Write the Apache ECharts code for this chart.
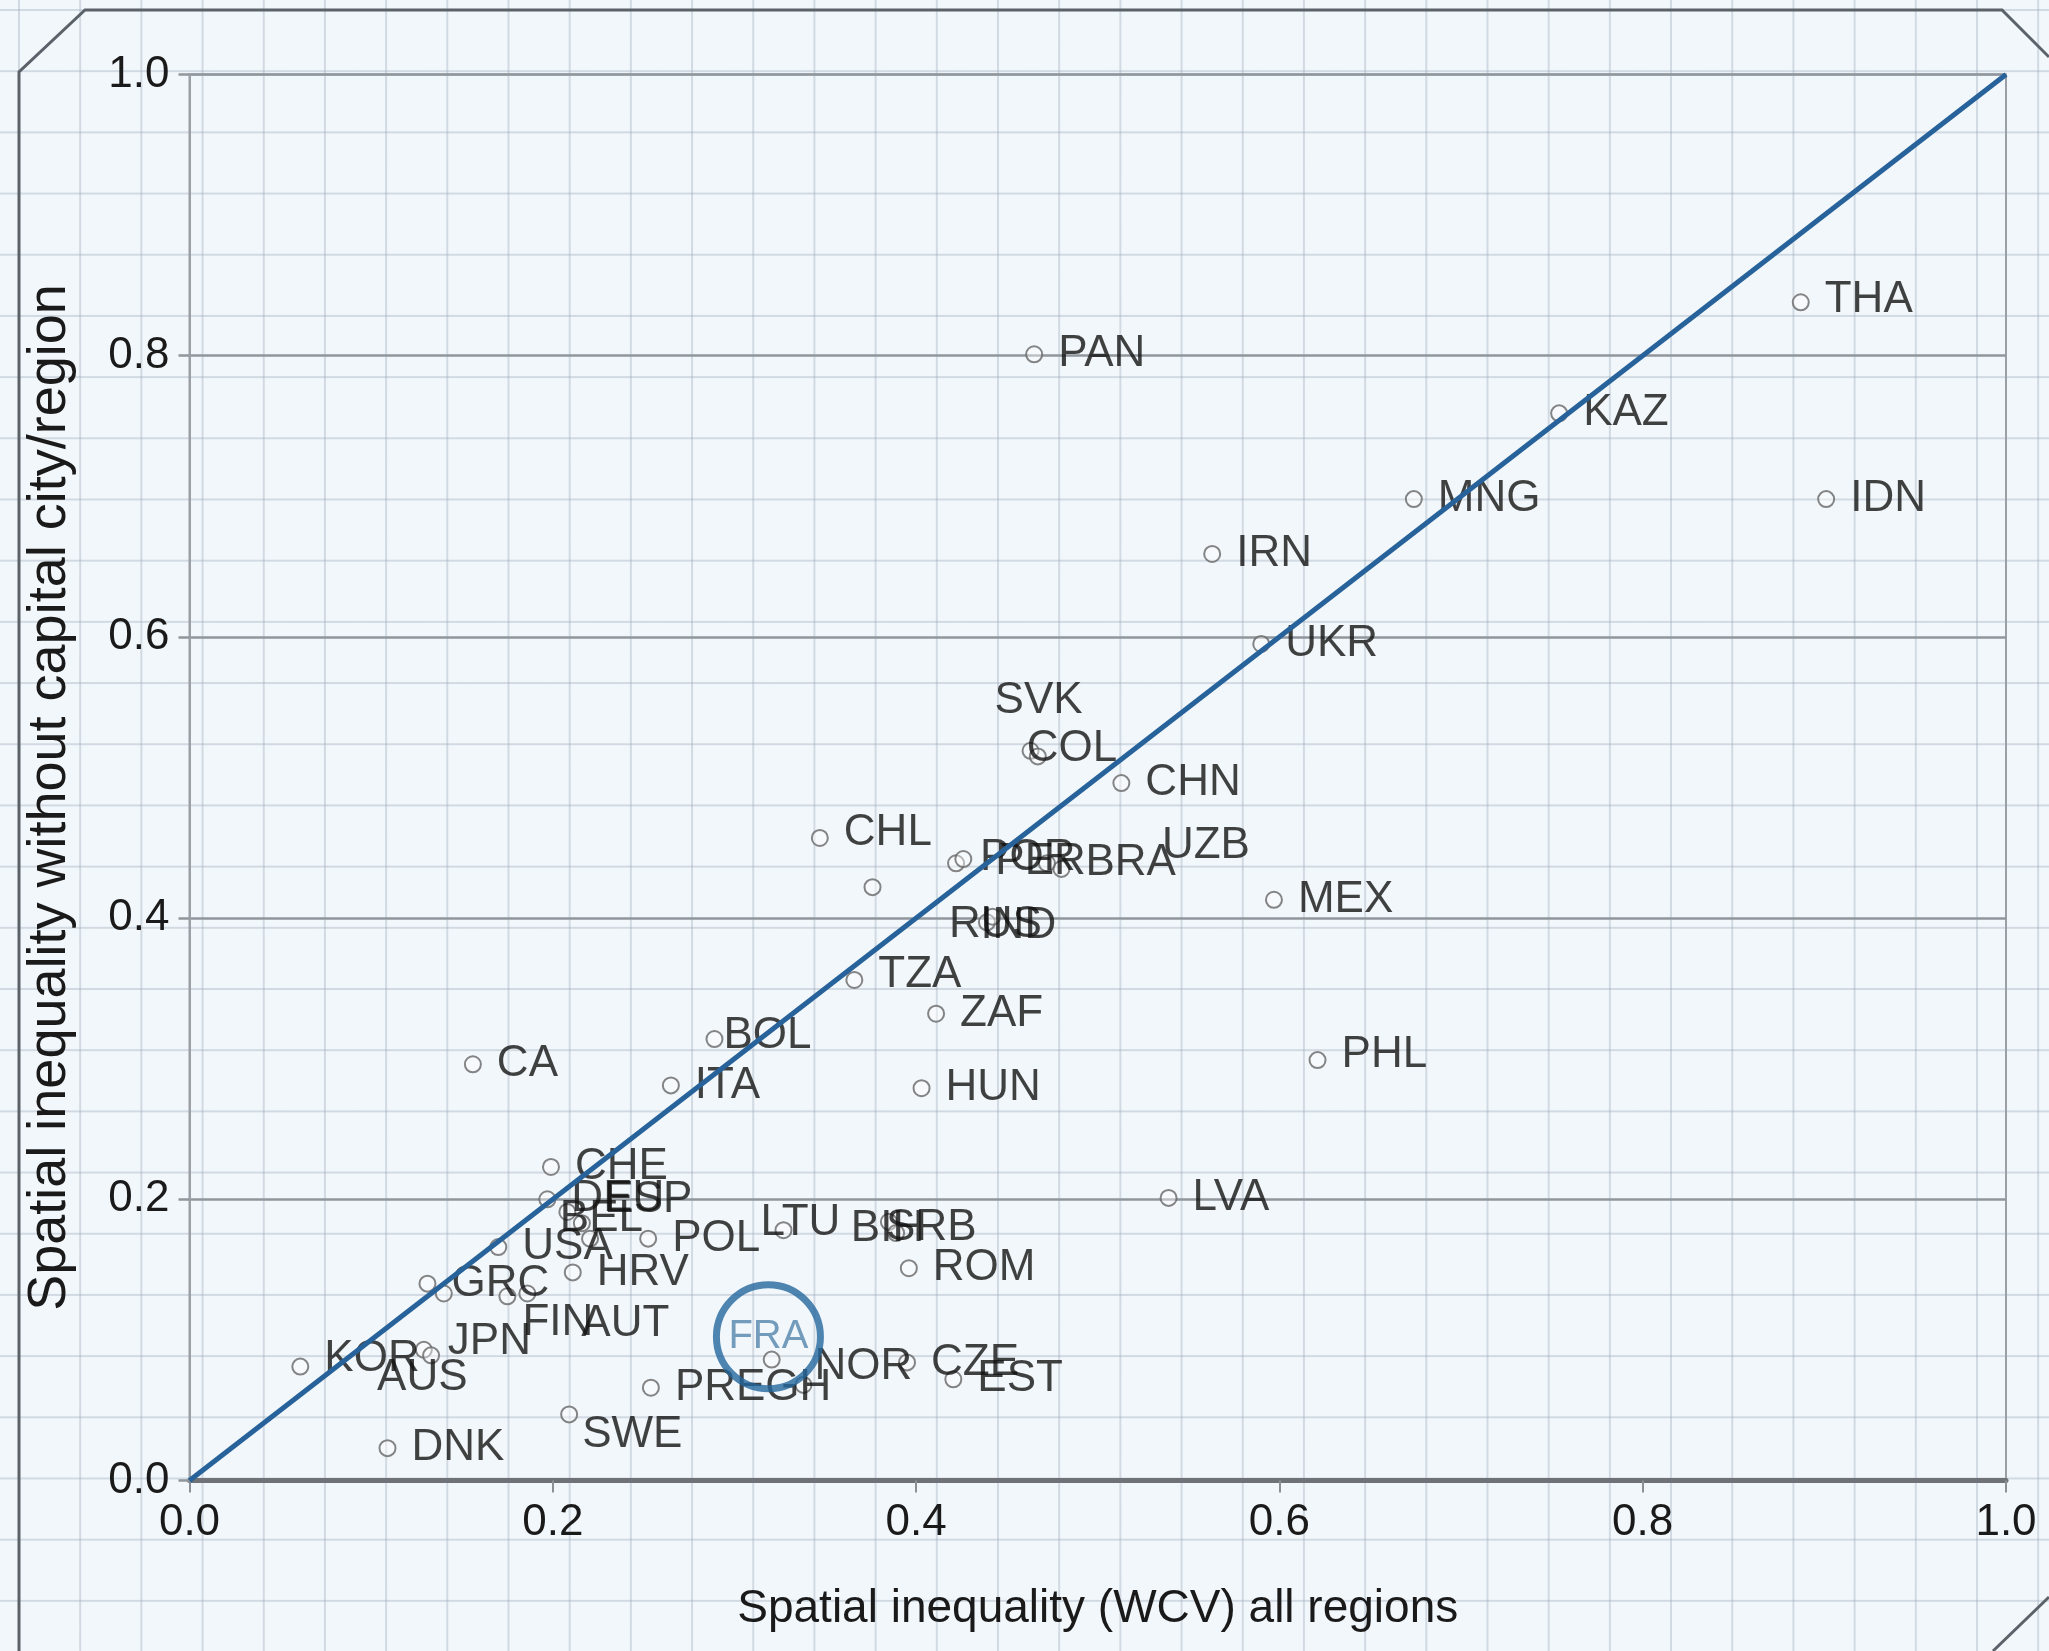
<!DOCTYPE html>
<html>
<head>
<meta charset="utf-8">
<title>Spatial inequality</title>
<script src="https://cdn.jsdelivr.net/npm/echarts@6/dist/echarts.min.js"></script>
<style>
  html, body { margin: 0; padding: 0; }
  #main {
    width: 2049px;
    height: 1651px;
    background-color: #f2f7fb;
    background-image:
      linear-gradient(to right, rgba(150, 166, 182, 0.36) 2px, transparent 2px),
      linear-gradient(to bottom, rgba(150, 166, 182, 0.36) 2px, transparent 2px);
    background-size: 61.2px 61.2px;
    background-position: 18px 9px;
  }
</style>
</head>
<body>
<div id="main"></div>
<script>
// country codes, x = WCV all regions, y = WCV without capital city/region
const countries = ['THA', 'PAN', 'KAZ', 'MNG', 'IDN', 'IRN', 'UKR', 'SVK', 'COL', 'CHN',
  'CHL', '', 'POR', 'PER', 'BRA', 'UZB', 'MEX', 'RUS', 'IND', 'TZA',
  'ZAF', 'BOL', 'CA', 'ITA', 'HUN', 'PHL', 'LVA', 'CHE', 'DEU', 'ESP',
  'BEL', '', 'USA', 'HRV', 'POL', 'LTU', 'BIH', 'SRB', 'ROM', 'GRC',
  '', 'FIN', 'AUT', 'KOR', 'JPN', 'AUS', 'DNK', 'SWE', 'PREGH', 'NOR',
  '', 'CZE', 'EST'];
const allRegions = [0.887, 0.465, 0.754, 0.674, 0.901, 0.563, 0.590, 0.463, 0.467, 0.513,
  0.347, 0.376, 0.422, 0.426, 0.480, 0.472, 0.597, 0.439, 0.442, 0.366,
  0.411, 0.289, 0.156, 0.265, 0.403, 0.621, 0.539, 0.199, 0.197, 0.208,
  0.216, 0.2205, 0.170, 0.211, 0.2525, 0.327, 0.385, 0.389, 0.396, 0.131,
  0.140, 0.175, 0.186, 0.061, 0.129, 0.133, 0.109, 0.209, 0.254, 0.338,
  0.3205, 0.395, 0.4205];
const withoutCapital = [0.838, 0.801, 0.759, 0.698, 0.698, 0.659, 0.595, 0.519, 0.515, 0.496,
  0.457, 0.422, 0.439, 0.442, 0.435, 0.439, 0.413, 0.397, 0.401, 0.356,
  0.332, 0.314, 0.296, 0.281, 0.279, 0.299, 0.201, 0.223, 0.200, 0.191,
  0.183, 0.172, 0.166, 0.148, 0.172, 0.178, 0.184, 0.176, 0.151, 0.140,
  0.133, 0.131, 0.133, 0.081, 0.093, 0.089, 0.023, 0.047, 0.066, 0.068,
  0.086, 0.084, 0.072];

// highlighted country (France)
const highlight = ['FRA'];
const highlightX = [0.3187];
const highlightY = [0.1022];

// 45 degree reference line
const refLine = [0, 1];

const ticks = [0, 0.2, 0.4, 0.6, 0.8, 1.0];

// label nudges (px) for crowded labels
const labelNudge = {
  SVK: [-60, -50], COL: [-35, -8], CHL: [0, -5], POR: [0, -5], PER: [8, 3],
  BRA: [0, -6], UZB: [91, -17], RUS: [-62, 3], IND: [-36, 9], TZA: [0, -5],
  BOL: [-15, -3], ESP: [13, -12], BEL: [-46, -4], LTU: [-47, -7], BIH: [-62, 7],
  SRB: [-34, -5], FIN: [-9, 27], AUT: [30, 30], KOR: [0, -8], JPN: [0, -8],
  AUS: [-78, 22], SWE: [-11, 20], NOR: [-13, -18], THA: [0, -2], PHL: [0, -5]
};

const font = "'Liberation Sans', Arial, Helvetica, sans-serif";

const points = countries.map((c, i) => ({
  name: c,
  value: [allRegions[i], withoutCapital[i]],
  label: { offset: labelNudge[c] || [0, 0] }
}));

const chart = echarts.init(document.getElementById('main'), null, { renderer: 'canvas' });

const axisCommon = {
  type: 'value',
  min: ticks[0],
  max: ticks[ticks.length - 1],
  interval: 0.2,
  axisLabel: {
    formatter: v => v.toFixed(1),
    fontSize: 44,
    color: '#1a1a1a',
    fontFamily: font,
    margin: 20
  }
};

chart.setOption({
  animation: false,
  backgroundColor: 'transparent',
  grid: {
    left: 189.5,
    right: 43,
    top: 74.5,
    bottom: 170.5,
    show: true,
    borderColor: '#9aa0a6',
    borderWidth: 2,
    backgroundColor: 'transparent'
  },
  graphic: [
    {
      type: 'polyline',
      shape: { points: [[19, 1651], [19, 72], [85, 10], [2002, 10], [2049, 57]] },
      style: { stroke: '#5c6269', lineWidth: 3, fill: null },
      silent: true
    },
    {
      type: 'line',
      shape: { x1: 1993, y1: 1651, x2: 2049, y2: 1597 },
      style: { stroke: '#5c6269', lineWidth: 3 },
      silent: true
    }
  ],
  xAxis: Object.assign({}, axisCommon, {
    name: 'Spatial inequality (WCV) all regions',
    nameLocation: 'middle',
    nameGap: 106,
    nameTextStyle: { fontSize: 46, color: '#1a1a1a', fontFamily: font },
    axisLine: { show: true, lineStyle: { color: '#6f7378', width: 5 } },
    axisTick: { show: true, length: 12, lineStyle: { color: '#8a9095', width: 2 } },
    splitLine: { show: false }
  }),
  yAxis: Object.assign({}, axisCommon, {
    name: 'Spatial inequality without capital city/region',
    nameLocation: 'middle',
    nameGap: 112,
    nameTextStyle: { fontSize: 54, color: '#1a1a1a', fontFamily: font, padding: [0, 40, 0, 0] },
    axisLine: { show: true, lineStyle: { color: '#9aa0a6', width: 2 } },
    axisTick: { show: true, length: 11, lineStyle: { color: '#8f969c', width: 2.5 } },
    splitLine: { show: true, lineStyle: { color: '#8f969c', width: 2.5 } }
  }),
  series: [
    {
      type: 'scatter',
      z: 2,
      silent: true,
      symbol: 'circle',
      symbolSize: 16,
      itemStyle: { color: 'rgba(255,255,255,0.5)', borderColor: '#666', borderWidth: 2 },
      label: {
        show: true,
        position: 'right',
        distance: 15,
        formatter: '{b}',
        fontSize: 44,
        color: '#111',
        fontFamily: font
      },
      data: points
    },
    {
      type: 'line',
      z: 4,
      silent: true,
      symbol: 'none',
      lineStyle: { color: '#27639a', width: 5 },
      data: [[refLine[0], refLine[0]], [refLine[1], refLine[1]]]
    },
    {
      type: 'scatter',
      z: 5,
      silent: true,
      symbol: 'circle',
      symbolSize: 104,
      itemStyle: { color: 'rgba(0,0,0,0)', borderColor: '#23679d', borderWidth: 7 },
      label: {
        show: true,
        position: 'inside',
        formatter: '{b}',
        fontSize: 40,
        color: '#5283ab',
        fontFamily: font
      },
      data: highlight.map((c, i) => ({ name: c, value: [highlightX[i], highlightY[i]] }))
    }
  ]
});
</script>
</body>
</html>
